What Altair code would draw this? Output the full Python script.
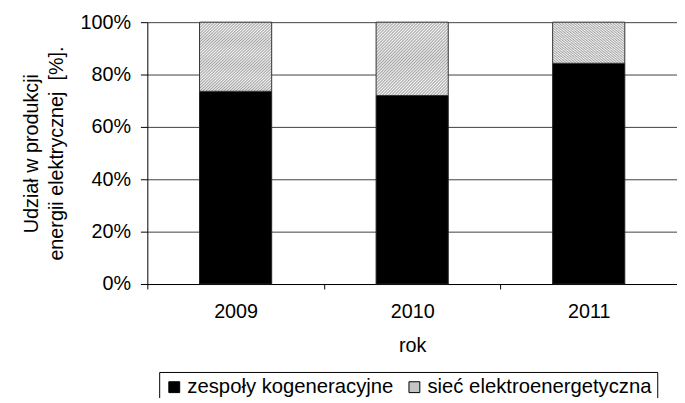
import altair as alt
import pandas as pd

# ---- data ----
years = ["2009", "2010", "2011"]
kogeneracja = [0.736, 0.720, 0.843]     # zespoły kogeneracyjne
siec = [0.264, 0.280, 0.157]            # sieć elektroenergetyczna
series = ["zespoły kogeneracyjne", "sieć elektroenergetyczna"]
y_ticks = [0, 0.2, 0.4, 0.6, 0.8, 1.0]

df = pd.DataFrame({"rok": years, "kog": kogeneracja, "siec": siec})
df["total"] = df["kog"] + df["siec"]
df["seria"] = series[0]

# ---- hatch-like fill built from a striped linear gradient ----
N = 48
stops = []
for i in range(N):
    stops += [
        alt.GradientStop(color="#a4a4a4", offset=i / N),
        alt.GradientStop(color="#f4f4f4", offset=(i + 0.5) / N),
    ]
stops.append(alt.GradientStop(color="#a4a4a4", offset=1))
hatch = alt.LinearGradient(gradient="linear", stops=stops, x1=0, y1=0, x2=1, y2=1)

FONT = "Liberation Sans"
FS = 20

x_enc = alt.X(
    "rok:N",
    title="rok",
    scale=alt.Scale(paddingInner=0, paddingOuter=0),
    axis=alt.Axis(labelAngle=0, tickBand="extent", tickSize=5, labelPadding=13,
                  titlePadding=14, grid=False),
)

y_axis = alt.Axis(
    values=y_ticks, format=".0%", tickSize=7, labelPadding=10,
    grid=True, gridColor="#404040", gridWidth=1,
    title=["Udział w produkcji", "energii elektrycznej \u00a0[%]."],
    titlePadding=14, titleLineHeight=25,
)

black = alt.Chart(df).mark_bar(size=73, stroke="#222222", strokeWidth=1).encode(
    x=x_enc,
    y=alt.Y("kog:Q", scale=alt.Scale(domain=[0, 1]), axis=y_axis),
    color=alt.Color(
        "seria:N",
        scale=alt.Scale(domain=series, range=["#000000", "#c4c4c4"]),
        legend=alt.Legend(
            title=None, orient="none", legendX=12, legendY=354,
            direction="horizontal", strokeColor="#000000", fillColor="#ffffff",
            padding=5, symbolType="square", symbolSize=121,
            symbolStrokeColor="#000000", symbolStrokeWidth=1,
            labelFont=FONT, labelFontSize=20.5, labelColor="#000000",
            labelOffset=3, columnPadding=10, labelLimit=400,
        ),
    ),
)

hatched = alt.Chart(df).mark_bar(size=73, fill=hatch, stroke="#333333", strokeWidth=1).encode(
    x=x_enc,
    y=alt.Y("kog:Q"),
    y2="total:Q",
)

chart = (
    alt.layer(black, hatched)
    .properties(
        width=536, height=265, autosize="none",
        padding={"left": 141, "top": 12, "right": 0, "bottom": 113},
        background="#ffffff",
    )
    .configure_view(strokeWidth=0)
    .configure_axis(
        labelFont=FONT, labelFontSize=FS, labelColor="#000000",
        titleFont=FONT, titleFontSize=FS, titleColor="#000000", titleFontWeight="normal",
        domainColor="#000000", tickColor="#000000", domainWidth=1, tickWidth=1,
    )
)

chart.save("out.html", embed_options={"renderer": "svg", "actions": False})
